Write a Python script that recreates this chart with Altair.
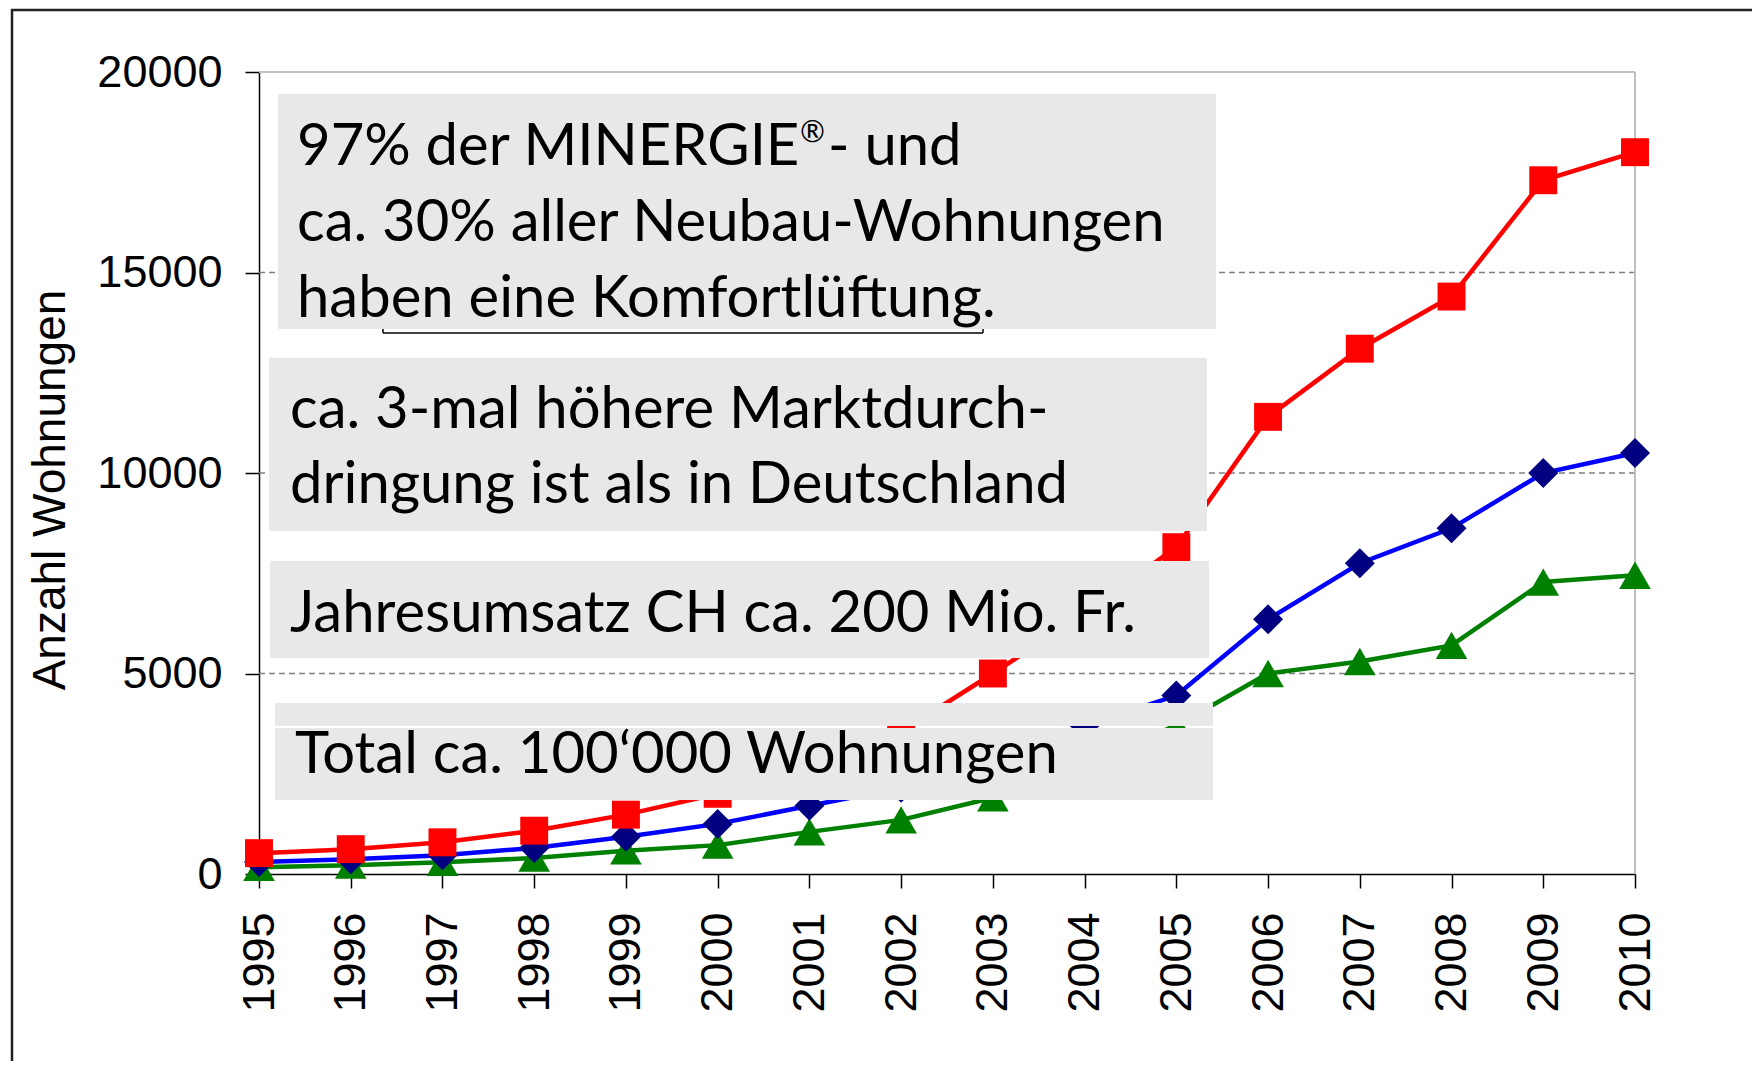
import altair as alt
import pandas as pd

years = list(range(1995, 2011))
red_vals = [520, 620, 790, 1080, 1480, 2000, 2700, 3550, 5000, 6500, 8150, 11400, 13100, 14400, 17300, 18000]
blue_vals = [300, 370, 470, 650, 930, 1250, 1700, 2150, 2850, 3700, 4450, 6350, 7750, 8620, 10000, 10500]
green_vals = [170, 220, 290, 400, 580, 720, 1050, 1350, 1900, 2800, 3700, 5000, 5300, 5700, 7280, 7450]
y_ticks = [0, 5000, 10000, 15000, 20000]
grid_vals = [5000, 10000, 15000]

y_title = "Anzahl Wohnungen"
box1_first = ["97% der MINERGIE", "®", "- und"]
box1_lines = ["ca. 30% aller Neubau-Wohnungen", "haben eine Komfortlüftung."]
box2_lines = ["ca. 3-mal höhere Marktdurch-", "dringung ist als in Deutschland"]
box3_lines = ["Jahresumsatz CH ca. 200 Mio. Fr."]
box4_lines = ["Total ca. 100‘000 Wohnungen"]

W, H = 1376, 802
TXT_FONT = "Lato"
TXT_SIZE = 58

x_enc = alt.X("year:Q",
              scale=alt.Scale(domain=[1995, 2010], nice=False, zero=False),
              axis=alt.Axis(values=years, format="d", labelAngle=270, labelPadding=24,
                            title=None, grid=False))
y_enc = alt.Y("value:Q",
              scale=alt.Scale(domain=[0, 20000], nice=False),
              axis=alt.Axis(values=y_ticks, format="d", labelPadding=23, title=None, grid=False))


def series(vals, line_color, mark_color, shape, size):
    df = pd.DataFrame({"year": years, "value": vals})
    base = alt.Chart(df)
    line = base.mark_line(color=line_color, strokeWidth=4.5).encode(x=x_enc, y=y_enc)
    pts = base.mark_point(shape=shape, size=size, filled=True, color=mark_color, opacity=1).encode(x=x_enc, y=y_enc)
    return line, pts


gl, gp = series(green_vals, "#008000", "#008000", "triangle-up", 1000)
bl, bp = series(blue_vals, "#0000ff", "#000080", "diamond", 900)
rl, rp = series(red_vals, "#ff0000", "#ff0000", "square", 780)

one = pd.DataFrame({"a": [0]})

grid = alt.Chart(pd.DataFrame({"value": grid_vals})).mark_rule(
    color="#808080", strokeWidth=1.3, strokeDash=[6, 4]).encode(y=y_enc)

top_border = alt.Chart(one).mark_rule(color="#c0c0c0", strokeWidth=2).encode(
    x=alt.value(0), x2=alt.value(W), y=alt.value(0))
right_border = alt.Chart(one).mark_rule(color="#c0c0c0", strokeWidth=2).encode(
    x=alt.value(W), y=alt.value(0), y2=alt.value(H))


def box(x0, x1, y0, y1):
    return alt.Chart(one).mark_rect(color="#e8e8e8").encode(
        x=alt.value(x0), x2=alt.value(x1), y=alt.value(y0), y2=alt.value(y1))


def txt(t, x, y, size=TXT_SIZE):
    return alt.Chart(one).mark_text(
        text=t, font=TXT_FONT, fontSize=size, align="left", baseline="alphabetic",
        color="#000000").encode(x=alt.value(x), y=alt.value(y))


def text_lines(lines, x, y0, step):
    return [txt(t, x, y0 + i * step) for i, t in enumerate(lines)]


boxes = [
    box(19, 957, 22, 257),
    box(10, 948, 286, 459),
    box(11, 950, 489, 586),
    box(16, 954, 631, 654),
    box(16, 954, 656, 728),
]
first_line = [
    txt(box1_first[0], 38, 93),
    txt(box1_first[1], 541, 70, 30),
    txt(box1_first[2], 569, 93),
]
texts = (first_line + text_lines(box1_lines, 38, 169, 76) + text_lines(box2_lines, 31, 356, 75)
         + text_lines(box3_lines, 31, 560, 75) + text_lines(box4_lines, 36, 701, 75))

underline = [
    alt.Chart(one).mark_rule(color="#000000", strokeWidth=1.5).encode(
        x=alt.value(124), x2=alt.value(724), y=alt.value(261)),
    alt.Chart(one).mark_rule(color="#000000", strokeWidth=1.5).encode(
        x=alt.value(124), y=alt.value(257), y2=alt.value(261)),
    alt.Chart(one).mark_rule(color="#000000", strokeWidth=1.5).encode(
        x=alt.value(724), y=alt.value(257), y2=alt.value(261)),
]

ytitle = alt.Chart(one).mark_text(
    text=y_title, font="Liberation Sans", fontSize=46, angle=270, align="center",
    baseline="alphabetic", color="#000000").encode(x=alt.value(-194), y=alt.value(418))

frame = alt.Chart(one).mark_rect(fillOpacity=0, stroke="#222222", strokeWidth=2.5).encode(
    x=alt.value(-247), x2=alt.value(1700), y=alt.value(-62), y2=alt.value(1300))

chart = alt.layer(
    grid, top_border, right_border,
    gl, bl, rl, gp, bp, rp,
    *boxes, *texts, *underline, ytitle, frame
).properties(
    width=W, height=H,
    autosize=alt.AutoSizeParams(type="none"),
    padding={"left": 251, "top": 64, "right": 117, "bottom": 187},
).configure_view(stroke=None).configure_axis(
    domainColor="#000000", domainWidth=1.5, tickColor="#000000", tickWidth=1.5, tickSize=14,
    labelFont="Liberation Sans", labelFontSize=45, labelColor="#000000"
)

chart.save("out.html", embed_options={"renderer": "svg", "actions": False})
